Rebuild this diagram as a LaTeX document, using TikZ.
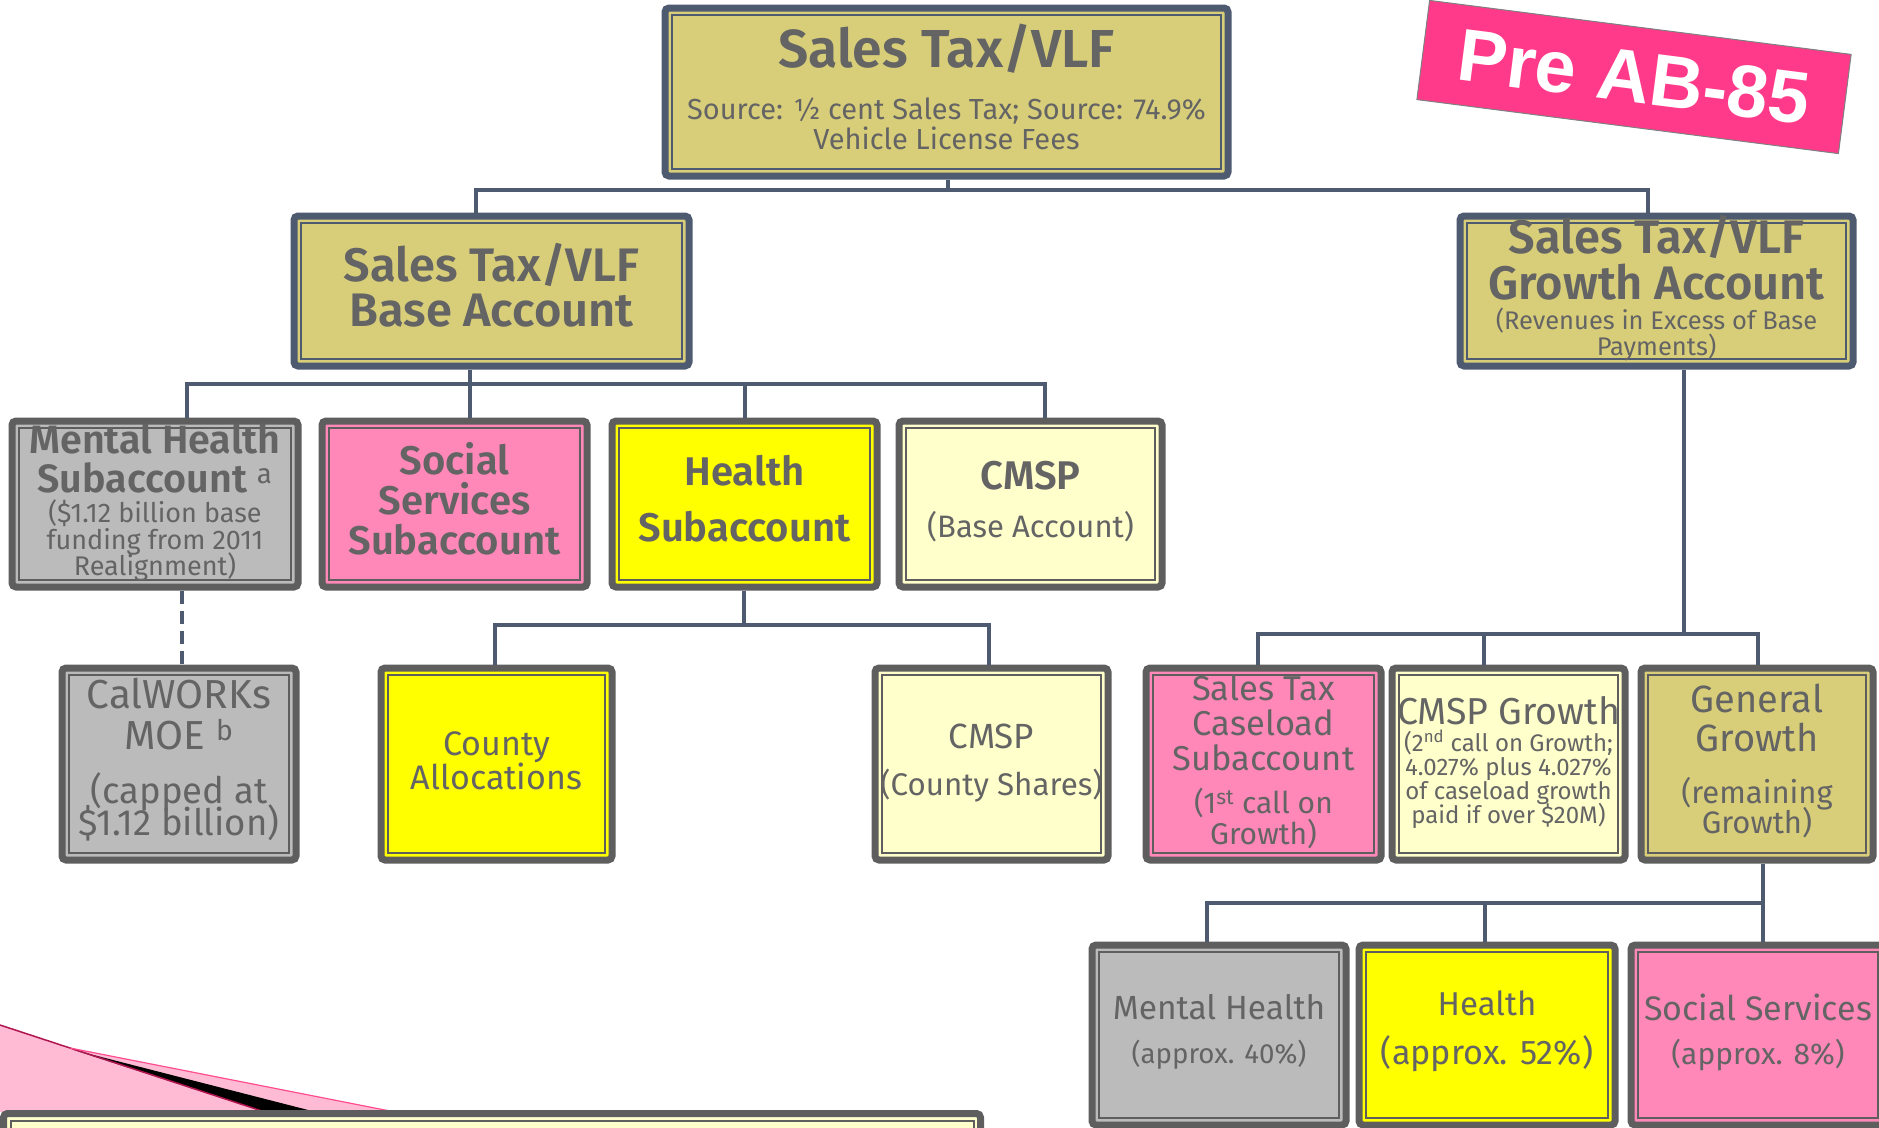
\documentclass[tikz,border=0pt]{standalone}
\usepackage{fontspec}
\IfFontExistsTF{Fira Sans SemiBold}
  {\setmainfont{Fira Sans}[BoldFont={Fira Sans SemiBold}]}
  {\setmainfont{Fira Sans}}
\newfontfamily\tagfont{Liberation Sans}
\definecolor{khaki}{HTML}{D8CE7A}
\definecolor{pinkbox}{HTML}{FF88B8}
\definecolor{graybox}{HTML}{BBBBBB}
\definecolor{ltyel}{HTML}{FFFFCC}
\definecolor{yel}{HTML}{FFFF00}
\definecolor{slate}{HTML}{4D5A70}
\definecolor{bord}{HTML}{5E5E5E}
\definecolor{txtgray}{HTML}{646464}
\definecolor{tagpink}{HTML}{FF3A8A}
\definecolor{curlpink}{HTML}{FFBBD3}
\definecolor{curldark}{HTML}{B0154F}
\definecolor{curlline}{HTML}{FF4D8E}
% font size with a fixed baseline distance between stacked lines
\newcommand\fsz[2]{\fontsize{#1}{#2}\selectfont\lineskiplimit=-1000pt\relax}
\newcommand\ttl[2]{{\fontsize{#1}{#1}\selectfont #2}}
\tikzset{
  box/.style={draw=#1, line width=7pt, rounded corners=4pt, inner sep=0pt,
    path picture={\draw[line width=2pt, draw=#1, sharp corners]
      ([shift={(7pt,-7pt)}]path picture bounding box.north west) rectangle
      ([shift={(-7pt,7pt)}]path picture bounding box.south east);}},
  box/.default=bord,
  txt/.style={align=center, text=txtgray, inner sep=0pt},
  conn/.style={draw=slate, line width=4.5pt},
  tag/.style={rotate=-7.3, fill=tagpink, draw=gray, line width=1pt,
    minimum width=425pt, minimum height=100pt, text=white,
    font=\tagfont\bfseries\fontsize{74}{74}\selectfont}
}
\begin{document}
\begin{tikzpicture}[x=1pt,y=-1pt]
\useasboundingbox (0,0) rectangle (1879,1127);
\clip (0,0) rectangle (1879,1127);

% page curl in the lower left corner
\fill[curlpink] (0,1025) -- (70,1048) -- (395,1112) -- (0,1112) -- cycle;
\fill[black] (74,1050) -- (265,1112) -- (316,1112) -- cycle;
\draw[curldark, line width=1.5pt] (0,1025) -- (70,1048) -- (265,1112);
\draw[curlline, line width=1.2pt] (70,1048) -- (395,1112);

% note box at the bottom edge
\node[box, fill=ltyel, minimum width=977pt, minimum height=186pt] (note) at (492,1206.5) {};

% connector junctions
\coordinate (t0) at (948,190);
\coordinate (tA) at (476,190);
\coordinate (tB) at (1648,190);
\coordinate (b0) at (470,384);
\coordinate (bA) at (187,384);
\coordinate (bB) at (1045,384);
\coordinate (bC) at (745,384);
\coordinate (h0) at (744,625);
\coordinate (hA) at (495,625);
\coordinate (hB) at (989,625);
\coordinate (m0) at (182,600);
\coordinate (g0) at (1684,634);
\coordinate (gA) at (1258,634);
\coordinate (gB) at (1758,634);
\coordinate (gC) at (1484,634);
\coordinate (n0) at (1763,903);
\coordinate (nA) at (1207,903);
\coordinate (nC) at (1485,903);

% boxes
\node[box=slate, fill=khaki, minimum width=563pt, minimum height=168pt] (top) at (946.5,92) {};
\node[box=slate, fill=khaki, minimum width=395pt, minimum height=150pt] (base) at (491.5,291) {};
\node[box=slate, fill=khaki, minimum width=393pt, minimum height=150pt] (growth) at (1656.5,291) {};
\node[box, fill=graybox, minimum width=286pt, minimum height=166pt] (mh) at (155,504) {};
\node[box, fill=pinkbox, minimum width=265pt, minimum height=166pt] (ss) at (454.5,504) {};
\node[box, fill=yel, minimum width=265pt, minimum height=166pt] (hs) at (744.5,504) {};
\node[box, fill=ltyel, minimum width=263pt, minimum height=166pt] (cmspb) at (1030.5,504) {};
\node[box, fill=graybox, minimum width=234pt, minimum height=192pt] (cw) at (179,764) {};
\node[box, fill=yel, minimum width=231pt, minimum height=192pt] (ca) at (496.5,764) {};
\node[box, fill=ltyel, minimum width=233pt, minimum height=192pt] (cs) at (991.5,764) {};
\node[box, fill=pinkbox, minimum width=235pt, minimum height=192pt] (stc) at (1263.5,764) {};
\node[box, fill=ltyel, minimum width=233pt, minimum height=192pt] (cg) at (1508.5,764) {};
\node[box, fill=khaki, minimum width=232pt, minimum height=192pt] (gg) at (1757,764) {};
\node[box, fill=graybox, minimum width=254pt, minimum height=180pt] (rmh) at (1219,1035) {};
\node[box, fill=yel, minimum width=256pt, minimum height=180pt] (rh) at (1487,1035) {};
\node[box, fill=pinkbox, minimum width=254pt, minimum height=180pt] (rss) at (1758,1035) {};

% connectors
\draw[conn] (top.south -| t0) -- (t0);
\draw[conn] (tA |- base.north) -- (tA) -- (tB) -- (tB |- growth.north);
\draw[conn] (base.south -| b0) -- (b0);
\draw[conn] (bA |- mh.north) -- (bA) -- (bB) -- (bB |- cmspb.north);
\draw[conn] (b0) -- (b0 |- ss.north);
\draw[conn] (bC) -- (bC |- hs.north);
\draw[conn] (hs.south -| h0) -- (h0);
\draw[conn] (hA |- ca.north) -- (hA) -- (hB) -- (hB |- cs.north);
\draw[conn, dash pattern=on 13pt off 7pt] (mh.south -| m0) -- (cw.north -| m0);
\draw[conn] (growth.south -| g0) -- (g0);
\draw[conn] (gA |- stc.north) -- (gA) -- (gB) -- (gB |- gg.north);
\draw[conn] (gC) -- (gC |- cg.north);
\draw[conn] (gg.south -| n0) -- (n0) -- (n0 |- rss.north);
\draw[conn] (nA |- rmh.north) -- (nA) -- (n0);
\draw[conn] (nC) -- (nC |- rh.north);

% texts
\node[txt, font=\fsz{29}{30}] (topL) at (946.5,86.5)
  {{\bfseries\ttl{53.5}{Sales Tax/VLF}}\\[22pt]Source: ½ cent Sales Tax; Source: 74.9\%\\Vehicle License Fees};
\node[txt, font=\bfseries\fsz{47}{45}] (baseL) at (491.5,285) {Sales Tax/VLF\\Base Account};
\node[txt, font=\fsz{25.5}{26}] (growthL) at (1656.5,288.5)
  {{\bfseries\ttl{47}{Sales Tax/VLF}}\\[20pt]{\bfseries\ttl{47}{Growth Account}}\\[4pt](Revenues in Excess of Base\\Payments)};
\node[txt, font=\fsz{27}{26}] (mhL) at (155,502)
  {{\bfseries\ttl{39.5}{Mental Health}}\\[13pt]{\bfseries\ttl{39.5}{Subaccount \mdseries\textsuperscript{a}}}\\[4pt](\$1.12 billion base\\[1pt]funding from 2011\\Realignment)};
\node[txt, font=\bfseries\fsz{40}{40}] (ssL) at (454.5,499) {Social\\Services\\Subaccount};
\node[txt, font=\bfseries\fsz{40}{56}] (hsL) at (744.5,499) {Health\\Subaccount};
\node[txt, font=\fsz{31}{48}] (cmspbL) at (1030.5,502) {{\bfseries\ttl{40}{CMSP}}\\(Base Account)};
\node[txt, font=\fsz{36.5}{32}] (cwL) at (179,760)
  {\ttl{40.5}{CalWORKs}\\[9pt]\ttl{40.5}{MOE \textsuperscript{b}}\\[22pt](capped at\\\$1.12 billion)};
\node[txt, font=\fsz{34}{34}] (caL) at (496.5,761) {County\\Allocations};
\node[txt, font=\fsz{31.3}{47}] (csL) at (991.5,763.5) {\ttl{35}{CMSP}\\(County Shares)};
\node[txt, font=\fsz{30}{31}] (stcL) at (1263.5,762)
  {\ttl{34.5}{Sales Tax}\\[4pt]\ttl{34.5}{Caseload}\\[4pt]\ttl{34.5}{Subaccount}\\[12pt](1\textsuperscript{st} call on\\Growth)};
\node[txt, font=\fsz{24}{24}] (cgL) at (1508.5,763)
  {\ttl{37.5}{CMSP Growth}\\[3pt](2\textsuperscript{nd} call on Growth;\\4.027\% plus 4.027\%\\of caseload growth\\paid if over \$20M)};
\node[txt, font=\fsz{31}{30}] (ggL) at (1757,761)
  {\ttl{38}{General}\\[9pt]\ttl{38}{Growth}\\[22pt](remaining\\Growth)};
\node[txt, font=\fsz{27.7}{44}] (rmhL) at (1219,1032) {\ttl{33.5}{Mental Health}\\(approx. 40\%)};
\node[txt, font=\fsz{34.2}{49}] (rhL) at (1487,1031) {\ttl{33}{Health}\\(approx. 52\%)};
\node[txt, font=\fsz{30}{44}] (rssL) at (1758,1032) {\ttl{34}{Social Services}\\(approx. 8\%)};

% tilted tag
\node[tag] (pre) at (1634,77) {Pre AB-85};
\end{tikzpicture}
\end{document}
